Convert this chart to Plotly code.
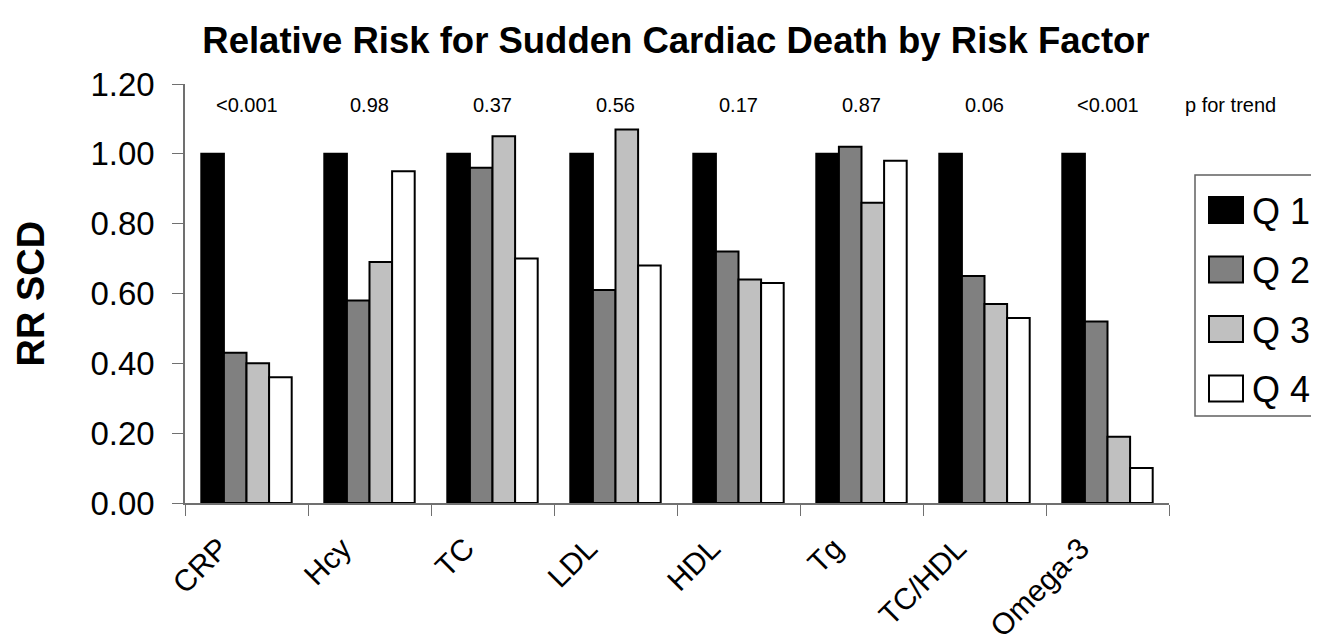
import plotly.graph_objects as go

# Risk factor categories and relative risk per quartile
factors = ["CRP", "Hcy", "TC", "LDL", "HDL", "Tg", "TC/HDL", "Omega-3"]
q1 = [1.00, 1.00, 1.00, 1.00, 1.00, 1.00, 1.00, 1.00]
q2 = [0.43, 0.58, 0.96, 0.61, 0.72, 1.02, 0.65, 0.52]
q3 = [0.40, 0.69, 1.05, 1.07, 0.64, 0.86, 0.57, 0.19]
q4 = [0.36, 0.95, 0.70, 0.68, 0.63, 0.98, 0.53, 0.10]
p_trend = ["<0.001", "0.98", "0.37", "0.56", "0.17", "0.87", "0.06", "<0.001"]
quartiles = ["Q1", "Q2", "Q3", "Q4"]
y_ticks = [0.0, 0.2, 0.4, 0.6, 0.8, 1.0, 1.2]

fills = ["#000000", "#808080", "#c0c0c0", "#ffffff"]
FONT = "Liberation Sans, Arial, sans-serif"

fig = go.Figure()

for name, vals, color in zip(quartiles, [q1, q2, q3, q4], fills):
    fig.add_trace(
        go.Bar(
            x=factors,
            y=vals,
            name=name,
            marker=dict(color=color, line=dict(color="#000000", width=2)),
            showlegend=False,
        )
    )

# plot area spans 185..1169 px across, 84..503 px down (page pixels)
px_w, px_h = 984.0, 419.0


def px(xp):
    return (xp - 185) / px_w


def py(yp):
    return (503 - yp) / px_h


# p for trend labels above each group
for f, p in zip(factors, p_trend):
    fig.add_annotation(
        x=f, y=py(105), yref="paper", text=p, showarrow=False,
        yanchor="middle",
        font=dict(size=20, color="#000000", family=FONT),
    )
fig.add_annotation(
    x=px(1230), xref="paper", y=py(105), yref="paper", text="p for trend",
    showarrow=False, xanchor="center", yanchor="middle",
    font=dict(size=20, color="#000000", family=FONT),
)

# y axis title
fig.add_annotation(
    x=px(30), xref="paper", y=0.5, yref="paper", text="<b>RR SCD</b>",
    textangle=-90, showarrow=False, xanchor="center", yanchor="middle",
    font=dict(size=38, color="#000000", family=FONT),
)

# hand-drawn legend box on the right
fig.add_shape(
    type="rect", xref="paper", yref="paper",
    x0=px(1195), x1=px(1330), y0=py(416), y1=py(175),
    line=dict(color="#606060", width=1.5), fillcolor="rgba(0,0,0,0)",
)
for i, (name, color) in enumerate(zip(quartiles, fills)):
    cy = 210 + i * 59.5
    fig.add_shape(
        type="rect", xref="paper", yref="paper",
        x0=px(1209), x1=px(1243), y0=py(cy + 13), y1=py(cy - 13),
        line=dict(color="#000000", width=2), fillcolor=color,
    )
    fig.add_annotation(
        x=px(1250), xref="paper", y=py(cy + 1), yref="paper",
        text=name[0] + " " + name[1], xanchor="left", yanchor="middle",
        showarrow=False,
        font=dict(size=36, color="#000000", family=FONT),
    )

# page has an 8px body margin, so the figure is 8px smaller than the window
fig.update_layout(
    width=1311,
    height=636,
    margin=dict(l=177, r=150, t=76, b=141, autoexpand=False),
    barmode="group",
    bargap=0.265,
    bargroupgap=0,
    plot_bgcolor="#ffffff",
    paper_bgcolor="#ffffff",
    title=dict(
        text="<b>Relative Risk for Sudden Cardiac Death by Risk Factor</b>",
        x=0.5095, xanchor="center", y=1 - 32 / 636, yanchor="middle",
        font=dict(size=36.5, color="#000000", family=FONT),
    ),
    font=dict(family=FONT, color="#000000"),
)

fig.update_xaxes(
    automargin=False,
    showline=True, linecolor="#707070", linewidth=1.5,
    ticks="outside", tickson="boundaries", ticklen=11, tickcolor="#707070",
    tickangle=-45, tickfont=dict(size=30, color="#000000", family=FONT),
    ticklabelstandoff=14, ticklabelshift=-27, showgrid=False,
)
fig.update_yaxes(
    automargin=False,
    range=[0, 1.2], tickvals=y_ticks, ticktext=[f"{v:.2f}" for v in y_ticks],
    showline=True, linecolor="#707070", linewidth=1.5,
    ticks="outside", ticklen=11, tickcolor="#707070",
    tickfont=dict(size=33, color="#000000", family=FONT),
    ticklabelstandoff=11, showgrid=False, zeroline=False,
)

fig.write_html("out.html")
